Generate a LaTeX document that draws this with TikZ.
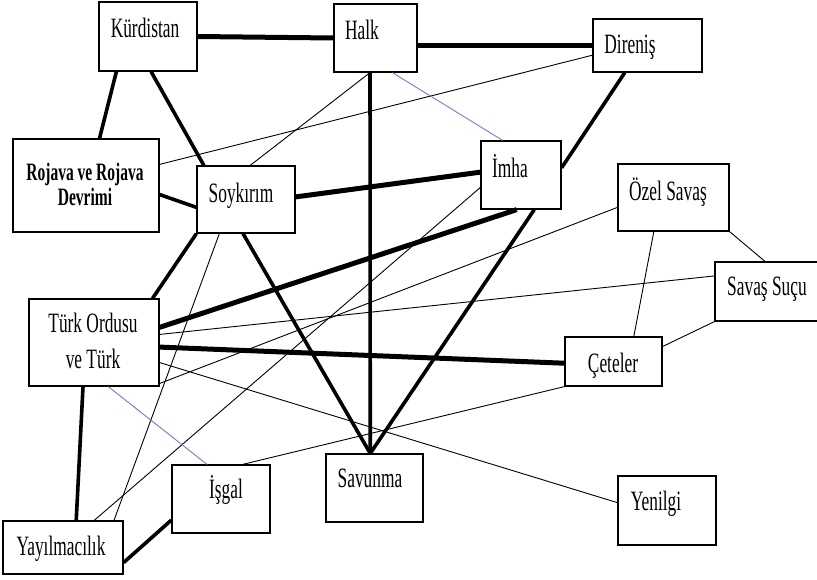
\documentclass[tikz,border=0pt]{standalone}
\usepackage{fontspec}
\newfontfamily\boxfont[FakeStretch=0.62]{Liberation Serif}
\definecolor{tiepurple}{RGB}{140,110,200}

\begin{document}
\begin{tikzpicture}[x=1pt,y=-1pt,
  box/.style={draw,line width=1.2pt,inner sep=0pt},
  lbl/.style={anchor=base,inner sep=0pt,align=center,font=\boxfont\fontsize{28}{36}\selectfont},
  heavy/.style={line width=5pt},
  strong/.style={line width=3.6pt},
  weak/.style={line width=0.9pt},
  tie/.style={tiepurple,line width=0.9pt}]
\useasboundingbox (0,0) rectangle (817,579);
% boxes
\node[box,minimum width=98pt,minimum height=69pt] (kurd) at (148,36.5) {};
\node[box,minimum width=83pt,minimum height=68pt] (halk) at (375.5,38) {};
\node[box,minimum width=109pt,minimum height=53pt] (dir) at (647.5,45.5) {};
\node[box,minimum width=146pt,minimum height=93pt] (roj) at (86,185.5) {};
\node[box,minimum width=98pt,minimum height=67pt] (soy) at (246,199.5) {};
\node[box,minimum width=80pt,minimum height=68pt] (imha) at (521,175) {};
\node[box,minimum width=111pt,minimum height=67pt] (ozel) at (673.5,197.5) {};
\node[box,minimum width=130pt,minimum height=87pt] (turk) at (94,342.5) {};
\node[box,minimum width=115pt,minimum height=59pt] (suc) at (772.5,291.5) {};
\node[box,minimum width=97pt,minimum height=49pt] (cete) at (613.5,361.5) {};
\node[box,minimum width=120pt,minimum height=53pt] (yay) at (63,547.5) {};
\node[box,minimum width=98pt,minimum height=68pt] (isg) at (221,499) {};
\node[box,minimum width=97pt,minimum height=68pt] (sav) at (374.5,488) {};
\node[box,minimum width=98pt,minimum height=69pt] (yen) at (667,510.5) {};
% texts (base = last line)
\node[lbl] (kurd-t) at (145,37) {Kürdistan};
\node[lbl] (halk-t) at (362,39) {Halk};
\node[lbl] (dir-t) at (630,53) {Direniş};
\node[lbl,font=\boxfont\bfseries\fontsize{25}{25}\selectfont] (roj-t) at (85,205) {Rojava ve Rojava\\Devrimi};
\node[lbl] (soy-t) at (241,202) {Soykırım};
\node[lbl] (imha-t) at (510,177) {İmha};
\node[lbl] (ozel-t) at (668,200) {Özel Savaş};
\node[lbl] (turk-t) at (93,368) {Türk Ordusu\\ve Türk};
\node[lbl] (suc-t) at (767,295) {Savaş Suçu};
\node[lbl] (cete-t) at (613,372) {Çeteler};
\node[lbl] (yay-t) at (61,555) {Yayılmacılık};
\node[lbl] (isg-t) at (226,498) {İşgal};
\node[lbl] (sav-t) at (370,487) {Savunma};
\node[lbl] (yen-t) at (656,510) {Yenilgi};
% heaviest links
\draw[heavy] (kurd.east) -- (halk.west);
\draw[heavy] (halk.east |- dir.west) -- (dir.west);
\draw[heavy] (soy.3) -- (imha.176);
\draw[heavy] (turk.13) -- (imha.263);
\draw[heavy] (turk.-4) -- (cete.182);
% strong links
\foreach \a/\b in {kurd.228/roj.74, kurd.275/soy.141, roj.-7/soy.189, dir.230/imha.10,
  halk.261/sav.97, soy.south west/turk.37, soy.265/sav.97, imha.291/sav.97,
  turk.256/yay.64, yay.-14/isg.203}
  \draw[strong] (\a) -- (\b);
% weak links
\foreach \a/\b in {roj.16/dir.190, halk.261/soy.83, soy.232/yay.28, imha.197/yay.41,
  ozel.190/turk.-32, ozel.240/cete.51, ozel.south east/suc.104, suc.165/turk.7,
  suc.south west/cete.17, turk.-17/yen.171, isg.58/cete.south west}
  \draw[weak] (\a) -- (\b);
% purple links
\draw[tie] (halk.296) -- (imha.118);
\draw[tie] (turk.288) -- (isg.112);
\end{tikzpicture}
\end{document}
